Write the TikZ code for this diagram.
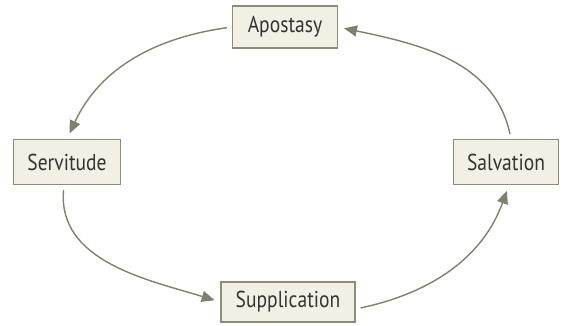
\documentclass[tikz,border=0pt]{standalone}
\usepackage{fontspec}
\setmainfont{PT Sans}[FakeStretch=0.85]
\usepackage{xcolor}
\definecolor{box-fill}{RGB}{242,240,228}
\definecolor{box-line}{RGB}{140,140,122}
\definecolor{arrow-grey}{RGB}{128,128,110}
\usetikzlibrary{arrows.meta}

\begin{document}
\begin{tikzpicture}[x=1pt,y=-1pt,
	stage/.style={draw=box-line,fill=box-fill,line width=1.2pt,
		minimum height=42pt,inner xsep=10pt,font=\fontsize{23}{27}\selectfont,text=black!80},
	cyc/.style={draw=arrow-grey,line width=1.4pt,
		-{Triangle[length=13pt,width=11pt]},shorten <=5pt,shorten >=6pt}]
	\useasboundingbox (0,0) rectangle (565,325);
	
	\node[stage,minimum width=105pt] (apostasy) at (285,27) {Apostasy};
	\node[stage,minimum width=107pt,minimum height=45pt] (servitude) at (67,162) {Servitude};
	\node[stage,minimum width=105pt,minimum height=45pt] (salvation) at (506,162) {Salvation};
	\node[stage,minimum width=134pt,minimum height=40pt] (supplication) at (288,302) {Supplication};
	
	\draw[cyc] (apostasy.west) to[out=188,in=65] (servitude.north);
	\draw[cyc] ([xshift=-3pt]servitude.south) to[out=-95,in=163] (supplication.west);
	\draw[cyc] ([yshift=-7pt]supplication.east) to[out=12,in=-110] ([xshift=3pt]salvation.south);
	\draw[cyc] ([xshift=5pt]salvation.north) to[out=102,in=-12] (apostasy.east);
	
\end{tikzpicture}
\end{document}
